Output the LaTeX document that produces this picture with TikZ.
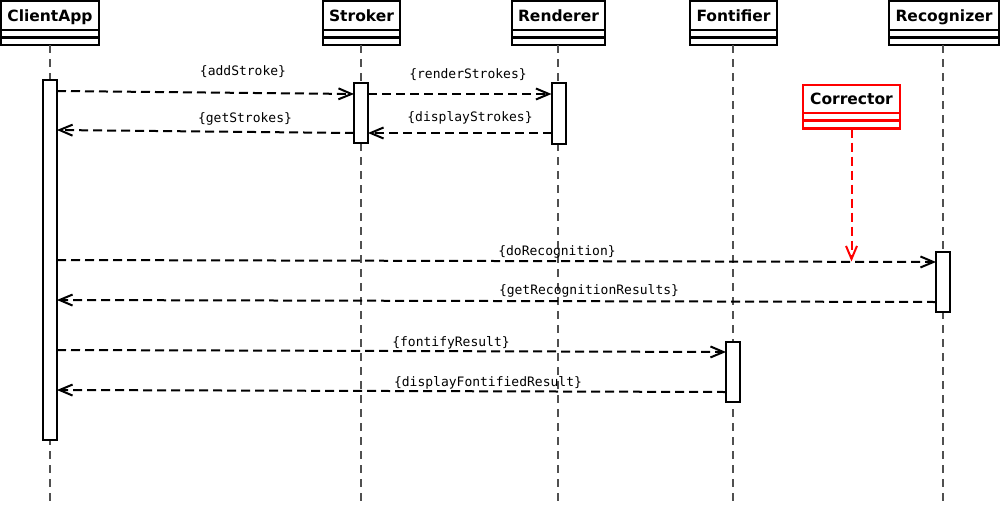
\documentclass[tikz,border=0pt]{standalone}
\usepackage{fontspec}
\usetikzlibrary{arrows.meta,positioning,calc}
\newfontfamily\headfont{DejaVu Sans}
\newfontfamily\msgfont{DejaVu Sans Mono}
\definecolor{lifegray}{RGB}{80,80,80}
\definecolor{corrred}{RGB}{255,0,0}

\begin{document}
\begin{tikzpicture}[x=1pt,y=-1pt,
  hdr/.style={draw,line width=2.2pt,fill=white,minimum height=29pt,inner sep=0pt,
              outer sep=0pt,text height=14pt,text depth=3pt,
              font=\headfont\bfseries\fontsize{15.5}{18}\selectfont},
  cmp/.style={draw,line width=2.2pt,fill=white,minimum height=7.5pt,inner sep=0pt,outer sep=0pt},
  bar/.style={draw,line width=2pt,fill=white,minimum width=14pt,inner sep=0pt,outer sep=0pt},
  life/.style={draw=lifegray,line width=1.1pt,dash pattern=on 8pt off 6pt},
  msg/.style={line width=2pt,dash pattern=on 9pt off 5pt,
              -{Straight Barb[length=13pt,width=11pt,line width=2pt]}},
  lbl/.style={font=\msgfont\fontsize{13}{15}\selectfont,inner sep=0pt},
]
\useasboundingbox (0,0) rectangle (1000,509);
\coordinate (bottom) at (0,506);

%% Lifeline heads
\node[hdr,minimum width=98pt] (client) at (50,15.5) {ClientApp};
\node[cmp,minimum width=98pt,below=0pt of client] (client2) {};
\node[cmp,minimum width=98pt,below=0pt of client2] (client3) {};

\node[hdr,minimum width=77pt] (stroker) at (361.5,15.5) {Stroker};
\node[cmp,minimum width=77pt,below=0pt of stroker] (stroker2) {};
\node[cmp,minimum width=77pt,below=0pt of stroker2] (stroker3) {};

\node[hdr,minimum width=93pt] (renderer) at (558.5,15.5) {Renderer};
\node[cmp,minimum width=93pt,below=0pt of renderer] (renderer2) {};
\node[cmp,minimum width=93pt,below=0pt of renderer2] (renderer3) {};

\node[hdr,minimum width=87pt] (fontifier) at (733.5,15.5) {Fontifier};
\node[cmp,minimum width=87pt,below=0pt of fontifier] (fontifier2) {};
\node[cmp,minimum width=87pt,below=0pt of fontifier2] (fontifier3) {};

\node[hdr,minimum width=110pt] (recognizer) at (944,15.5) {Recognizer};
\node[cmp,minimum width=110pt,below=0pt of recognizer] (recognizer2) {};
\node[cmp,minimum width=110pt,below=0pt of recognizer2] (recognizer3) {};

%% Lifelines
\draw[life] (client3.south) -- (client3.south |- bottom);
\draw[life] ([xshift=-0.5pt]stroker3.south) -- ([xshift=-0.5pt]stroker3.south |- bottom);
\draw[life] ([xshift=-0.5pt]renderer3.south) -- ([xshift=-0.5pt]renderer3.south |- bottom);
\draw[life] ([xshift=-0.5pt]fontifier3.south) -- ([xshift=-0.5pt]fontifier3.south |- bottom);
\draw[life] ([xshift=-1pt]recognizer3.south) -- ([xshift=-1pt]recognizer3.south |- bottom);

%% Activation bars
\node[bar,minimum height=360pt] (cbar) at (50,260) {};
\node[bar,minimum height=60pt] (sbar) at (361,113) {};
\node[bar,minimum height=61pt] (rbar) at (558.5,113.5) {};
\node[bar,minimum height=60pt] (kbar) at (943,282) {};
\node[bar,minimum height=60pt] (fbar) at (733,372) {};

%% Corrector
\node[hdr,draw=corrred,minimum width=97pt,minimum height=28pt] (corr) at (851.5,99) {Corrector};
\node[cmp,draw=corrred,minimum width=97pt,below=0pt of corr] (corr2) {};
\node[cmp,draw=corrred,minimum width=97pt,minimum height=8pt,below=0pt of corr2] (corr3) {};
\coordinate (corrhit) at ($(corr3.south)+(0,133)$);
\draw[msg,draw=corrred,line width=2pt] (corr3.south) -- (corrhit);

%% Messages
\draw[msg] ($(cbar.north east)+(0,11)$) -- ($(sbar.north west)+(0,11)$);
\draw[msg] ($(sbar.north east)+(0,11)$) -- ($(rbar.north west)+(0,11)$);
\draw[msg] ($(rbar.north west)+(0,50)$) -- ($(sbar.north east)+(0,50)$);
\draw[msg] ($(sbar.north west)+(0,50)$) -- ($(cbar.north east)+(0,50)$);
\draw[msg] ($(cbar.north east)+(0,180)$) -- ($(kbar.north west)+(0,10)$);
\draw[msg] ($(kbar.north west)+(0,50)$) -- ($(cbar.north east)+(0,220)$);
\draw[msg] ($(cbar.north east)+(0,270)$) -- ($(fbar.north west)+(0,10)$);
\draw[msg] ($(fbar.north west)+(0,50)$) -- ($(cbar.north east)+(0,310)$);

%% Message labels
\node[lbl] (addl) at (243,72) {\{addStroke\}};
\node[lbl] (renl) at (468,75) {\{renderStrokes\}};
\node[lbl] (disl) at (470,118) {\{displayStrokes\}};
\node[lbl] (getl) at (245,119) {\{getStrokes\}};
\node[lbl] (recl) at (557,252) {\{doRecognition\}};
\node[lbl] (resl) at (589,291) {\{getRecognitionResults\}};
\node[lbl] (fonl) at (451,343) {\{fontifyResult\}};
\node[lbl] (dfrl) at (488,383) {\{displayFontifiedResult\}};

\end{tikzpicture}
\end{document}
